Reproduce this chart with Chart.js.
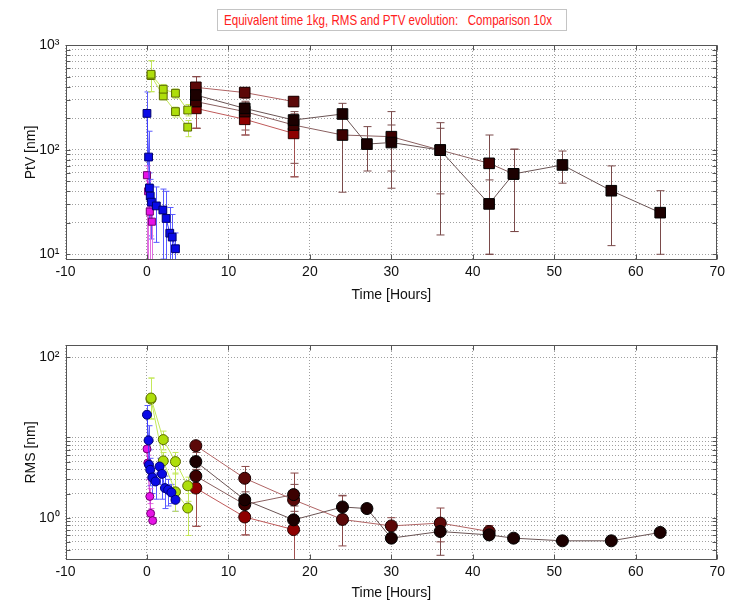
<!DOCTYPE html>
<html>
<head>
<meta charset="utf-8">
<script src="https://cdn.jsdelivr.net/npm/chart.js@4.4.1/dist/chart.umd.min.js"></script>
<style>
    html, body { margin: 0; padding: 0; background: #fff; }
    #wrap { position: relative; width: 729px; height: 603px; overflow: hidden; }
    #ptvChart { position: absolute; left: 0; top: 0; }
    #rmsChart { position: absolute; left: 0; top: 305px; }
    #title {
        position: absolute; left: 217px; top: 9px; width: 348px; height: 20px;
        border: 1px solid #c4c4c4; background: #fff;
    }
    #title span {
        position: absolute; left: 6px; top: 1px; white-space: pre;
        font: 15px "Liberation Sans", Arial, sans-serif; color: #ff2020;
        transform-origin: 0 50%;
    }
</style>
</head>
<body>
<div id="wrap">
    <canvas id="ptvChart" width="729" height="305"></canvas>
    <canvas id="rmsChart" width="729" height="298"></canvas>
    <div id="title"><span id="titleText">Equivalent time 1kg, RMS and PTV evolution:   Comparison 10x</span></div>
</div>
<script>
// ---- shared axis values ----
const xTicks = [-10, 0, 10, 20, 30, 40, 50, 60, 70];
const ptvGrid = [10, 20, 30, 40, 50, 60, 70, 80, 90, 100, 200, 300, 400, 500, 600, 700, 800, 900, 1000];
const ptvLabelled = [10, 100, 1000];
const rmsGrid = [0.4, 0.5, 0.6, 0.7, 0.8, 0.9, 1, 2, 3, 4, 5, 6, 7, 8, 9, 10, 100];
const rmsLabelled = [1, 100];

// ---- PtV [nm] ----
const ptvBlueTime = [0, 0.2, 0.3, 0.4, 0.55, 1.15, 1.95, 2.35, 2.8, 3.1, 3.5];
const ptvBlueVal  = [222, 85, 43, 36, 31.5, 29, 26.5, 22, 15.9, 14.6, 11.3];
const ptvBlueLo   = [5, 30, 20, 15, 14, 13, 9, 8, 7, 7, 6];
const ptvBlueHi   = [356, 150, 60, 52, 45, 44, 42, 40, 28, 24, 16];

const ptvMagTime = [0, 0.15, 0.35, 0.6];
const ptvMagVal  = [57, 40, 25.6, 20.5];
const ptvMagLo   = [5, 5, 5, 5];
const ptvMagHi   = [70, 50, 35, 28];

const ptvGreenTime = [0.5, 2, 3.5, 5];
const ptvGreenAVal = [525, 378, 346, 239];
const ptvGreenALo  = [358, 340, 310, 210];
const ptvGreenAHi  = [708, 420, 380, 270];
const ptvGreenBVal = [510, 326, 231, 164];
const ptvGreenBLo  = [358, 300, 205, 133];
const ptvGreenBHi  = [708, 360, 255, 190];

const ptvD1Time = [6, 12, 18];
const ptvD1Val  = [394, 351, 288];
const ptvD1Lo   = [330, 310, 260];
const ptvD1Hi   = [498, 390, 320];

const ptvD2Time = [6, 12, 18, 24, 27, 30, 36, 42, 45, 51, 57, 63];
const ptvD2Val  = [333, 248, 192, 219, 113, 117, 99, 30.3, 58.6, 71.4, 40.5, 25];
const ptvD2Lo   = [160, 154, 74, 150, 62.5, 62.5, 37.8, 10, 16.5, 47.8, 12.1, 10];
const ptvD2Hi   = [498, 290, 231, 277, 166, 172, 181, 51.4, 101, 97, 69.9, 40.5];

const ptvD3Time = [6, 12, 18, 24, 30, 36, 42, 45];
const ptvD3Val  = [288, 231, 172, 138, 133, 99, 74, 58.6];
const ptvD3Lo   = [160, 138, 55, 39.2, 42.8, 15.3, 10, 16.5];
const ptvD3Hi   = [420, 280, 220, 200, 231, 160, 138, 101];

const ptvD4Time = [6, 12, 18];
const ptvD4Val  = [248, 195, 143];
const ptvD4Lo   = [160, 138, 55];
const ptvD4Hi   = [330, 250, 190];

// ---- RMS [nm] ----
const rmsBlueTime = [0, 0.2, 0.25, 0.4, 0.65, 1.05, 1.55, 1.85, 2.2, 2.6, 3.0, 3.5];
const rmsBlueVal  = [19.2, 9.2, 4.57, 3.95, 3.17, 2.83, 4.35, 3.52, 2.34, 2.23, 2.06, 1.67];
const rmsBlueLo   = [9, 5, 3, 2.5, 2, 1.7, 2.6, 1.7, 1.3, 1.4, 1.5, 1.2];
const rmsBlueHi   = [25, 14, 7, 5.5, 4.3, 3.6, 5.5, 4.5, 3.3, 3, 2.6, 2.1];

const rmsMagTime = [0, 0.1, 0.35, 0.45, 0.7];
const rmsMagVal  = [7.2, 4.8, 1.84, 1.13, 0.92];
const rmsMagLo   = [5, 3, 1.5, 0.95, 0.85];
const rmsMagHi   = [9, 6, 2.3, 1.3, 1.0];

const rmsGreenTime = [0.5, 2, 3.5, 5];
const rmsGreenAVal = [31, 9.4, 5.0, 2.5];
const rmsGreenALo  = [17, 7, 3.5, 1.6];
const rmsGreenAHi  = [55, 12, 6.5, 3.2];
const rmsGreenBVal = [30, 5.1, 2.1, 1.32];
const rmsGreenBLo  = [17, 3.5, 1.2, 0.6];
const rmsGreenBHi  = [55, 6.5, 3.6, 2.0];

const rmsD1Time = [6, 12, 18, 24, 30, 36, 42];
const rmsD1Val  = [7.9, 3.1, 1.67, 0.95, 0.79, 0.857, 0.673];
const rmsD1Lo   = [0.78, 0.61, 0.2, 0.445, 0.6, 0.5, 0.55];
const rmsD1Hi   = [8.9, 4.35, 3.6, 1.87, 1.0, 1.32, 0.8];

const rmsD2Time = [6, 12, 18, 24, 27, 30, 36, 42, 45, 51, 57, 63];
const rmsD2Val  = [5.0, 1.67, 0.94, 1.36, 1.30, 0.556, 0.673, 0.61, 0.556, 0.515, 0.515, 0.655];
const rmsD2Lo   = [4, 1.3, 0.75, 1.1, 1.15, 0.5, 0.34, 0.55, 0.5, 0.47, 0.47, 0.6];
const rmsD2Hi   = [6.5, 2.1, 1.2, 1.9, 1.45, 0.62, 0.8, 0.68, 0.62, 0.56, 0.56, 0.72];

const rmsD3Time = [6, 12, 18];
const rmsD3Val  = [3.3, 1.46, 1.94];
const rmsD3Lo   = [2.5, 1.1, 1.4];
const rmsD3Hi   = [4.3, 1.8, 2.6];

const rmsD4Time = [6, 12, 18];
const rmsD4Val  = [2.34, 1.02, 0.71];
const rmsD4Lo   = [0.78, 0.61, 0.2];
const rmsD4Hi   = [3, 1.3, 0.9];

// ---- styles ----
const styles = {
    blue:  { line: "#3a3aff", fill: "#0a0ae6", edge: "#000070", err: "#5a5aff", cap: 3 },
    mag:   { line: "#d020d0", fill: "#e614e6", edge: "#700070", err: "#e070e0", cap: 3 },
    green: { line: "#c4e85a", fill: "#aede0a", edge: "#5a6a00", err: "#c4e85a", cap: 3 },
    d1:    { line: "#b06464", fill: "#5c0808", edge: "#1a0000", err: "#8a4848", cap: 4 },
    d2:    { line: "#6a5454", fill: "#1c0000", edge: "#000000", err: "#7a4a4a", cap: 4 },
    d3:    { line: "#8a6060", fill: "#3c0000", edge: "#000000", err: "#7a4a4a", cap: 4 },
    d4:    { line: "#c05a5a", fill: "#8e0000", edge: "#2a0000", err: "#a05050", cap: 4 }
};

const SUP = { "0": "\u2070", "1": "\u00b9", "2": "\u00b2", "3": "\u00b3" };

function series(t, v, lo, hi, st, shape, r) {
    return {
        data: t.map((x, i) => ({ x: x, y: v[i] })),
        errLo: lo, errHi: hi, errColor: st.err, capHalf: st.cap,
        showLine: true, borderColor: st.line, borderWidth: 1,
        pointStyle: shape, pointRadius: r, pointHoverRadius: r,
        pointBackgroundColor: st.fill, pointBorderColor: st.edge, pointBorderWidth: 1
    };
}

const errorBarPlugin = {
    id: "errorBars",
    beforeDatasetsDraw(chart) {
        const { ctx, chartArea: a, scales: { x, y } } = chart;
        ctx.save();
        ctx.beginPath();
        ctx.rect(a.left, a.top, a.width, a.height);
        ctx.clip();
        chart.data.datasets.forEach(ds => {
            ctx.strokeStyle = ds.errColor;
            ctx.lineWidth = 1;
            ds.data.forEach((p, i) => {
                const px = Math.round(x.getPixelForValue(p.x)) + 0.5;
                const yl = y.getPixelForValue(ds.errLo[i]);
                const yh = y.getPixelForValue(ds.errHi[i]);
                ctx.beginPath();
                ctx.moveTo(px, yl); ctx.lineTo(px, yh);
                ctx.moveTo(px - ds.capHalf, yl); ctx.lineTo(px + ds.capHalf, yl);
                ctx.moveTo(px - ds.capHalf, yh); ctx.lineTo(px + ds.capHalf, yh);
                ctx.stroke();
            });
        });
        ctx.restore();
    }
};

const boxPlugin = {
    id: "box",
    afterDraw(chart) {
        const { ctx, chartArea: a, scales: { x, y } } = chart;
        const l = Math.round(a.left) + 0.5, r = Math.round(a.right) - 0.5;
        const t = Math.round(a.top) + 0.5, b = Math.round(a.bottom) - 0.5;
        ctx.save();
        ctx.strokeStyle = "#555";
        ctx.lineWidth = 1;
        ctx.strokeRect(l, t, r - l, b - t);
        ctx.beginPath();
        x.ticks.forEach(tk => {
            const px = Math.round(x.getPixelForValue(tk.value)) + 0.5;
            ctx.moveTo(px, b); ctx.lineTo(px, b - 5);
            ctx.moveTo(px, t); ctx.lineTo(px, t + 5);
        });
        y.ticks.forEach(tk => {
            const py = Math.round(y.getPixelForValue(tk.value)) + 0.5;
            ctx.moveTo(l, py); ctx.lineTo(l + 4, py);
            ctx.moveTo(r, py); ctx.lineTo(r - 4, py);
        });
        ctx.stroke();
        ctx.restore();
    }
};

function makeChart(id, datasets, yMin, yMax, grid, labelled, yTitle, padTop, xHeight) {
    return new Chart(document.getElementById(id), {
        type: "scatter",
        data: { datasets: datasets },
        options: {
            responsive: false,
            animation: false,
            layout: { padding: { top: padTop, right: 9.5, left: 0, bottom: 0 } },
            plugins: { legend: { display: false }, tooltip: { enabled: false } },
            scales: {
                x: {
                    type: "linear", min: -10, max: 70,
                    afterBuildTicks: s => { s.ticks = xTicks.map(v => ({ value: v })); },
                    afterFit: s => { s.height = xHeight; },
                    grid: { color: "#a0a0a0", drawTicks: false },
                    border: { display: false, dash: [1, 2] },
                    ticks: { autoSkip: false, padding: 4, maxRotation: 0, font: { size: 14 }, color: "#111" },
                    title: { display: true, text: "Time [Hours]", font: { size: 14 }, color: "#111", padding: { top: 0, bottom: 1 } }
                },
                y: {
                    type: "logarithmic", min: yMin, max: yMax,
                    afterBuildTicks: s => { s.ticks = grid.map(v => ({ value: v })); },
                    afterFit: s => { s.width = 65.5; },
                    grid: { color: "#a0a0a0", drawTicks: false },
                    border: { display: false, dash: [1, 2] },
                    ticks: {
                        autoSkip: false, padding: 6, font: { size: 14 }, color: "#111",
                        callback: v => labelled.includes(v) ? "10" + SUP[String(Math.round(Math.log10(v)))] : ""
                    },
                    title: { display: true, text: yTitle, font: { size: 14 }, color: "#111", padding: { top: 23, bottom: 0 } }
                }
            }
        },
        plugins: [errorBarPlugin, boxPlugin]
    });
}

makeChart("ptvChart", [
    series(ptvBlueTime, ptvBlueVal, ptvBlueLo, ptvBlueHi, styles.blue, "rect", 5.5),
    series(ptvMagTime, ptvMagVal, ptvMagLo, ptvMagHi, styles.mag, "rect", 5),
    series(ptvGreenTime, ptvGreenAVal, ptvGreenALo, ptvGreenAHi, styles.green, "rect", 5.5),
    series(ptvGreenTime, ptvGreenBVal, ptvGreenBLo, ptvGreenBHi, styles.green, "rect", 5.5),
    series(ptvD2Time, ptvD2Val, ptvD2Lo, ptvD2Hi, styles.d2, "rect", 7.5),
    series(ptvD3Time, ptvD3Val, ptvD3Lo, ptvD3Hi, styles.d3, "rect", 7.5),
    series(ptvD1Time, ptvD1Val, ptvD1Lo, ptvD1Hi, styles.d1, "rect", 7.5),
    series(ptvD4Time, ptvD4Val, ptvD4Lo, ptvD4Hi, styles.d4, "rect", 7.5)
], 8.82, 1000, ptvGrid, ptvLabelled, "PtV [nm]", 45, 45);

makeChart("rmsChart", [
    series(rmsBlueTime, rmsBlueVal, rmsBlueLo, rmsBlueHi, styles.blue, "circle", 4.5),
    series(rmsMagTime, rmsMagVal, rmsMagLo, rmsMagHi, styles.mag, "circle", 4),
    series(rmsGreenTime, rmsGreenAVal, rmsGreenALo, rmsGreenAHi, styles.green, "circle", 5),
    series(rmsGreenTime, rmsGreenBVal, rmsGreenBLo, rmsGreenBHi, styles.green, "circle", 5),
    series(rmsD2Time, rmsD2Val, rmsD2Lo, rmsD2Hi, styles.d2, "circle", 6),
    series(rmsD3Time, rmsD3Val, rmsD3Lo, rmsD3Hi, styles.d3, "circle", 6),
    series(rmsD1Time, rmsD1Val, rmsD1Lo, rmsD1Hi, styles.d1, "circle", 6),
    series(rmsD4Time, rmsD4Val, rmsD4Lo, rmsD4Hi, styles.d4, "circle", 6)
], 0.297, 142, rmsGrid, rmsLabelled, "RMS [nm]", 40, 43);

// squeeze the title text to the narrow width of the original
const titleSpan = document.getElementById("titleText");
titleSpan.style.transform = "scaleX(" + (328 / titleSpan.getBoundingClientRect().width) + ")";
</script>
</body>
</html>
